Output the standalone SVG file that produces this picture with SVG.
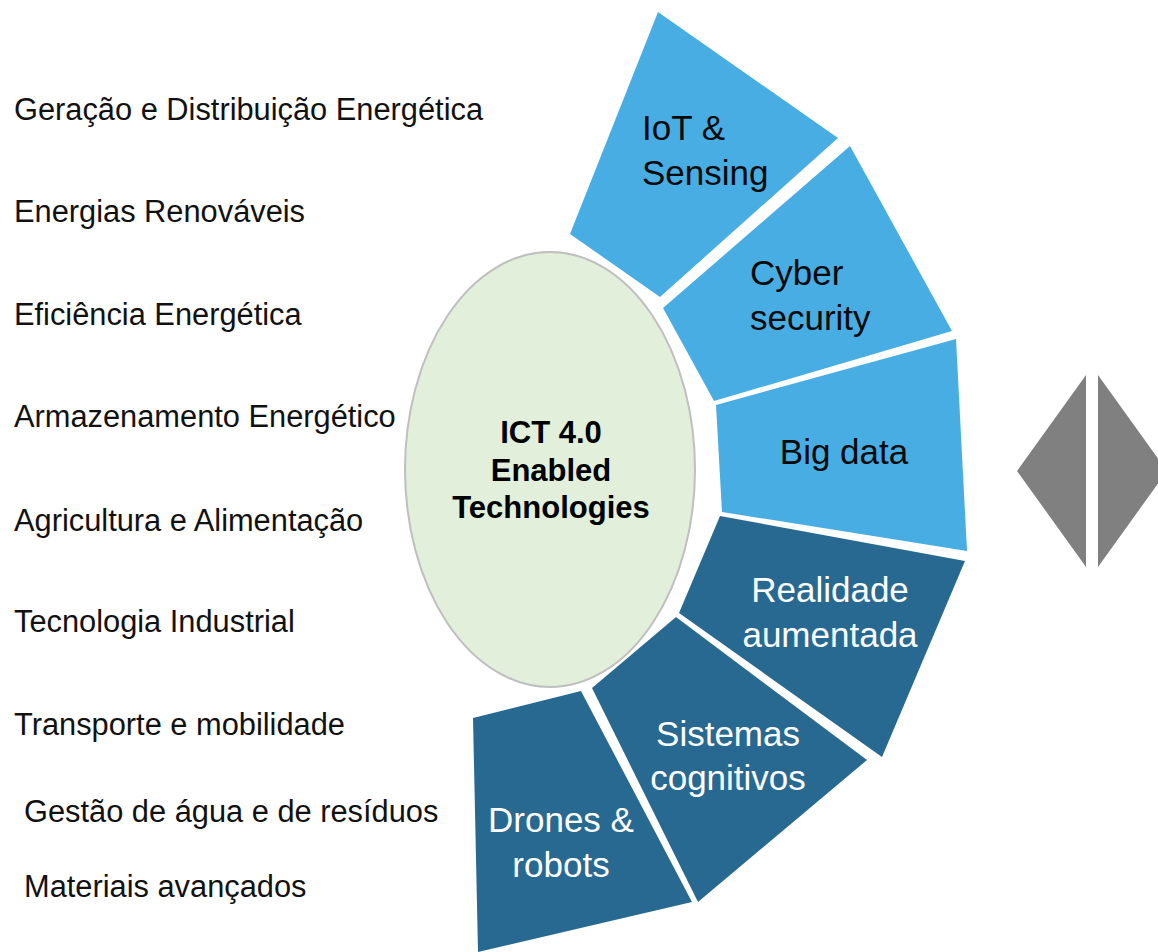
<svg xmlns="http://www.w3.org/2000/svg" width="1158" height="952" viewBox="0 0 1158 952">
<style>
.lbl{font-family:"Liberation Sans",Arial,sans-serif;font-size:30.8px;fill:#111}
.seg-l{fill:#48ade3}
.seg-d{fill:#286992}
.tl{font-family:"Liberation Sans",Arial,sans-serif;font-size:35px;fill:#0a0a0a}
.td{font-family:"Liberation Sans",Arial,sans-serif;font-size:35px;fill:#ffffff}
.ct{font-family:"Liberation Sans",Arial,sans-serif;font-size:31px;font-weight:bold;fill:#000;text-anchor:middle}
</style>
<rect width="1158" height="952" fill="#ffffff"/>
<g id="areas">
<text class="lbl" x="14" y="120">Geração e Distribuição Energética</text>
<text class="lbl" x="14" y="222">Energias Renováveis</text>
<text class="lbl" x="14" y="325">Eficiência Energética</text>
<text class="lbl" x="14" y="427">Armazenamento Energético</text>
<text class="lbl" x="14" y="531">Agricultura e Alimentação</text>
<text class="lbl" x="14" y="632">Tecnologia Industrial</text>
<text class="lbl" x="14" y="735">Transporte e mobilidade</text>
<text class="lbl" x="24" y="822">Gestão de água e de resíduos</text>
<text class="lbl" x="24" y="897">Materiais avançados</text>
</g>
<g id="center">
<ellipse cx="550" cy="469.5" rx="145" ry="217.5" fill="#e2efda" stroke="#bfbfbf" stroke-width="2"/>
<text class="ct" x="551" y="443">ICT 4.0</text>
<text class="ct" x="551" y="481">Enabled</text>
<text class="ct" x="551" y="518">Technologies</text>
</g>
<g id="iot">
<polygon class="seg-l" points="658,12 838,138 660,297 570,234"/>
<text class="tl" x="642" y="140">IoT &amp;</text>
<text class="tl" x="642" y="185">Sensing</text>
</g>
<g id="cyber">
<polygon class="seg-l" points="850,146 952,331 714,401 663,308"/>
<text class="tl" x="750" y="285">Cyber</text>
<text class="tl" x="750" y="330">security</text>
</g>
<g id="bigdata">
<polygon class="seg-l" points="716,405 956,339 967,551 722,512"/>
<text class="tl" x="844" y="464" text-anchor="middle">Big data</text>
</g>
<g id="realidade">
<polygon class="seg-d" points="720,516 965,561 882,757 679,613"/>
<text class="td" x="830" y="602" text-anchor="middle">Realidade</text>
<text class="td" x="830" y="647" text-anchor="middle">aumentada</text>
</g>
<g id="sistemas">
<polygon class="seg-d" points="676,617 867,760 698,902 592,688"/>
<text class="td" x="728" y="746" text-anchor="middle">Sistemas</text>
<text class="td" x="728" y="790" text-anchor="middle">cognitivos</text>
</g>
<g id="drones">
<polygon class="seg-d" points="581,691 692,902 478,952 473,718"/>
<text class="td" x="561" y="832" text-anchor="middle">Drones &amp;</text>
<text class="td" x="561" y="877" text-anchor="middle">robots</text>
</g>
<g id="diamond">
<polygon fill="#808080" points="1086,375 1086,567 1017,471"/>
<polygon fill="#808080" points="1098,375 1098,567 1167,471"/>
</g>
<g id="connectors"></g>
</svg>
